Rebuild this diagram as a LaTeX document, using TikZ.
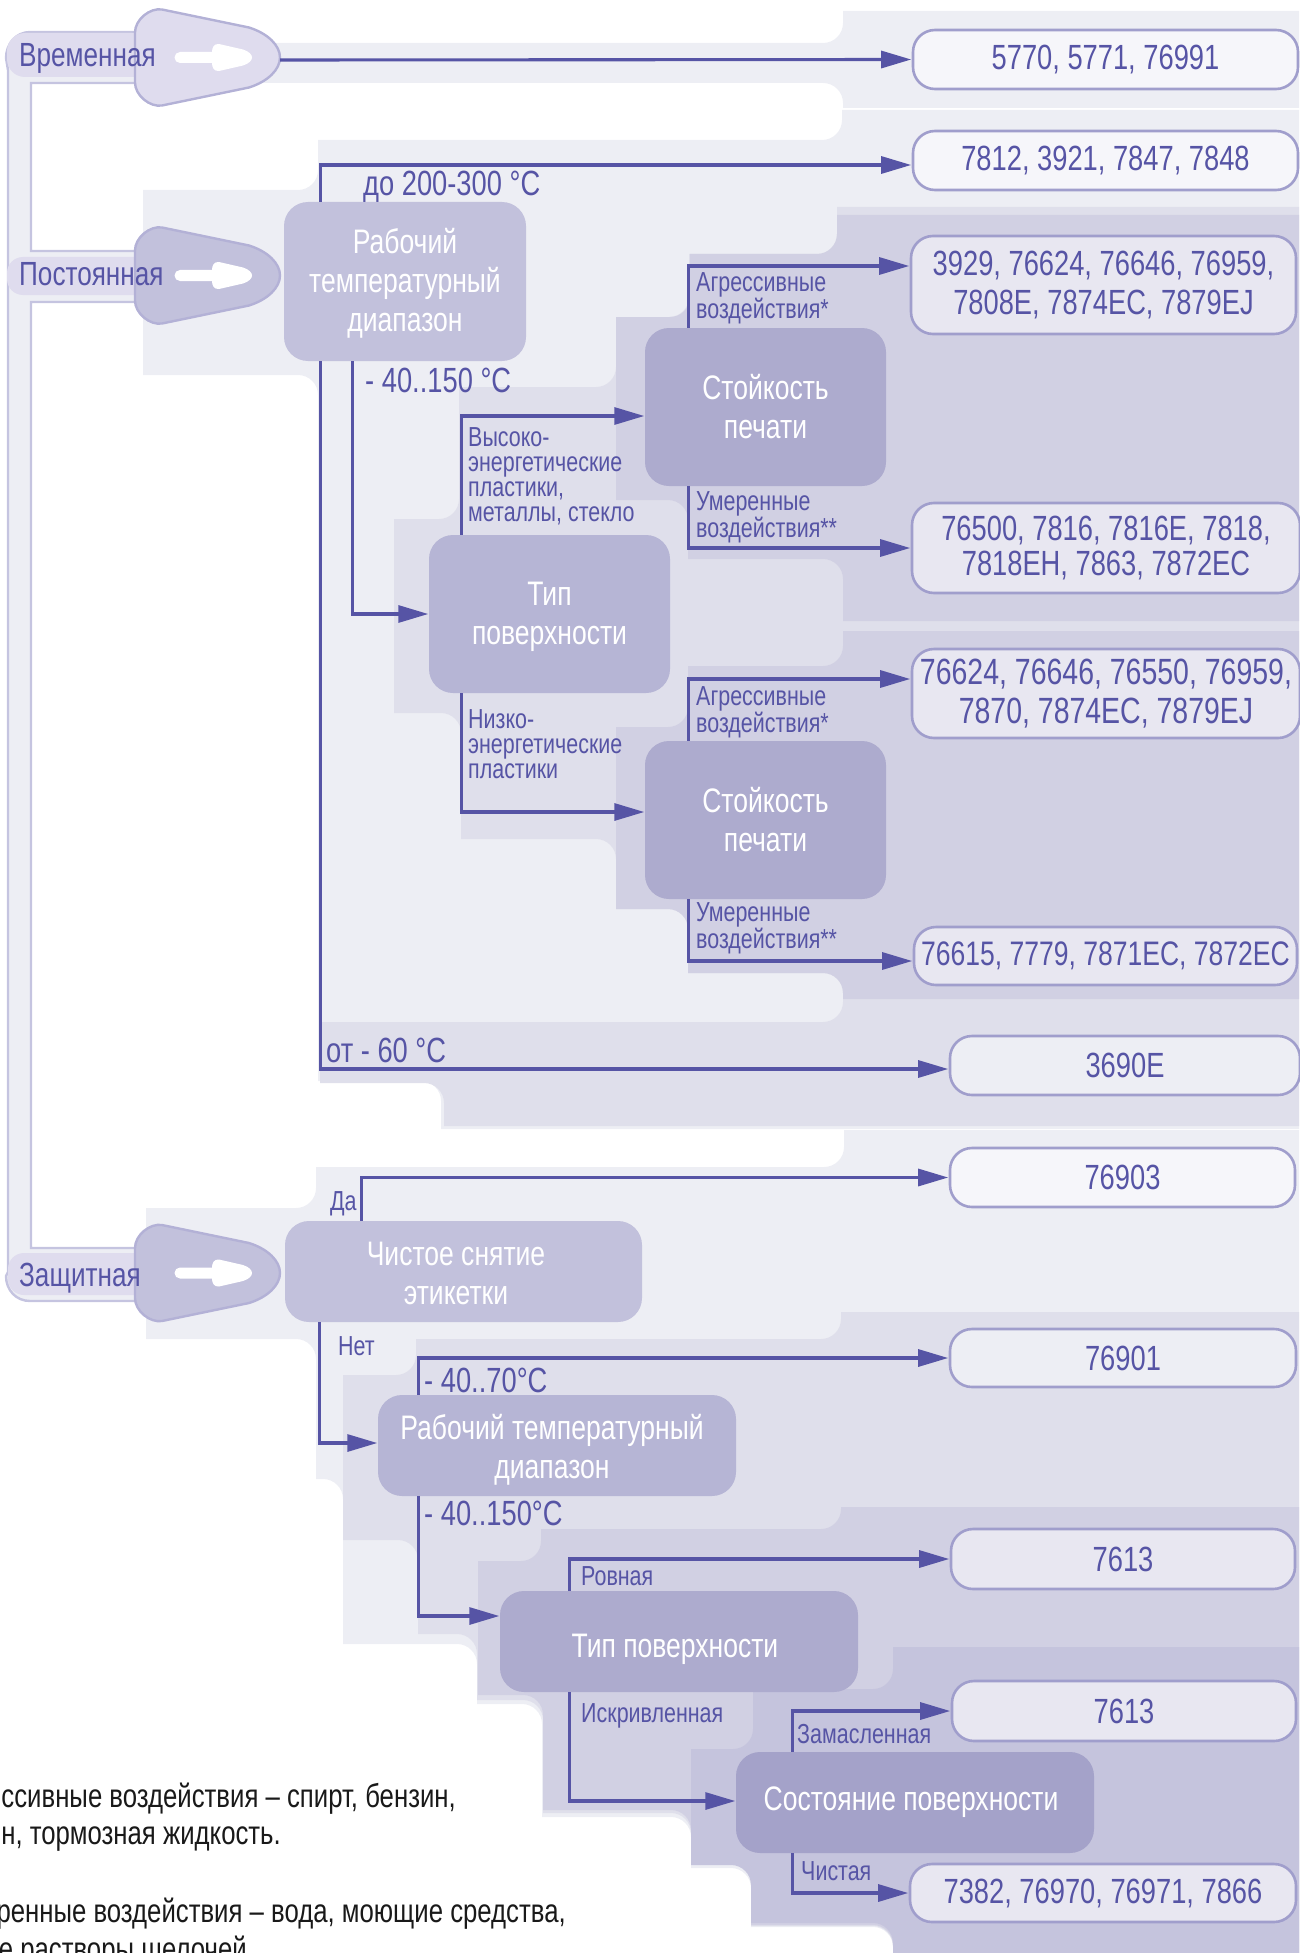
\documentclass[tikz,border=0pt]{standalone}
\usepackage{fontspec}
\setmainfont{Liberation Sans}[FakeStretch=0.78]
\usetikzlibrary{arrows.meta}
\definecolor{inkblue}{HTML}{5654A5}
\definecolor{edgeblue}{HTML}{A09ECC}
\definecolor{busedge}{HTML}{C5C4E0}
\definecolor{headedge}{HTML}{B3B1D6}
\definecolor{catlight}{HTML}{DFDCEE}
\definecolor{layerzero}{HTML}{EDEEF4}
\definecolor{layerone}{HTML}{DFDFEB}
\definecolor{layertwo}{HTML}{D1D0E3}
\definecolor{layerthree}{HTML}{C5C4DD}
\definecolor{blockone}{HTML}{C2C1DC}
\definecolor{blocktwo}{HTML}{B6B5D5}
\definecolor{blockthree}{HTML}{ADABCE}
\definecolor{blockfour}{HTML}{A4A2C9}
\tikzset{
  rc/.style={rounded corners=20pt},
  sc/.style={sharp corners},
  flow/.style={inkblue,line width=3.1pt,shorten >=0.5pt,-{Triangle[length=30pt,width=17pt]}},
  block/.style={rounded corners=24pt,inner sep=0pt,text=white,align=center,font=\fontsize{34}{39}\selectfont},
  result/.style={draw=edgeblue,line width=2.6pt,rounded corners=22pt,inner sep=0pt,text=inkblue,align=center,font=\fontsize{35}{39.5}\selectfont},
  catlabel/.style={text=inkblue,inner sep=0pt,anchor=west,font=\fontsize{33.5}{36}\selectfont},
  midlabel/.style={text=inkblue,inner sep=0pt,anchor=west,font=\fontsize{35}{36}\selectfont},
  smalllabel/.style={text=inkblue,inner sep=0pt,anchor=west,align=left,font=\fontsize{27.5}{25}\selectfont},
  footnote/.style={text=black!90,inner sep=0pt,anchor=east,font=\fontsize{33}{36}\selectfont},
  headshape/.pic={
    \fill[white] (180,-5.5) -- (212,-5.5) .. controls (212,-10) and (214,-14) .. (219,-13.5) -- (243,-8)
      .. controls (249,-6) and (252,-3) .. (252,0) .. controls (252,3) and (249,6) .. (243,8) -- (219,13.5)
      .. controls (214,14) and (212,10) .. (212,5.5) -- (180,5.5) arc (90:270:5.5) -- cycle;
  }
}
\newcommand{\headpath}{(135,-25) .. controls (135,-38) and (150,-50) .. (162,-48) -- (249,-30)
  .. controls (268,-24) and (280,-12) .. (280,0) .. controls (280,12) and (268,24) .. (249,30) -- (162,48)
  .. controls (150,50) and (135,38) .. (135,25) -- cycle}
\newcommand{\dropby}[2]{\raisebox{-#1}[\height][\depth]{#2}}
\begin{document}
\begin{tikzpicture}[x=1pt,y=-1pt]
  \useasboundingbox (0,0) rectangle (1299,1953);
  \fill[layerzero] (843,11) -- (1299,11) -- (1299,108) -- (843,108) [rc] -- (843,83) [sc] -- (240,83) -- (240,43) [rc] -- (843,43) [sc] -- cycle;
  \fill[layerzero] (842,110) -- (1299,110) -- (1299,1129) -- (441,1129) [rc] -- (441,1081) [sc] -- (318,1081) [rc] -- (318,375) [sc] -- (143,375) -- (143,190) [rc] -- (318,190) [sc] -- (318,140) [rc] -- (842,140) [sc] -- cycle;
  \fill[layerone] (1299,207) -- (837,207) [rc] -- (837,254) [sc] -- (689,254) [rc] -- (689,317) [sc] -- (616,317) [rc] -- (616,387) [sc] -- (459,387) [rc] -- (459,519) [sc] -- (394,519) -- (394,713) [rc] -- (461,713) [sc] -- (461,839) [rc] -- (616,839) [sc] -- (616,909) [rc] -- (688,909) [sc] -- (688,973) [rc] -- (843,973) -- (843,1022) [sc] -- (320,1022) -- (320,1083) [rc] -- (444,1083) [sc] -- (444,1126) -- (1299,1126) -- cycle;
  \fill[layertwo] (1299,215) -- (837,215) [rc] -- (837,254) [sc] -- (690,254) [rc] -- (690,317) [sc] -- (616,317) -- (616,500) [rc] -- (688,500) [sc] -- (688,559) [rc] -- (843,559) [sc] -- (843,621) -- (1299,621) -- cycle;
  \fill[layertwo] (1299,631) -- (843,631) [rc] -- (843,666) [sc] -- (688,666) [rc] -- (688,727) [sc] -- (616,727) -- (616,909) [rc] -- (688,909) [sc] -- (688,973) [rc] -- (843,973) [sc] -- (843,999) -- (1299,999) -- cycle;
  \fill[layerzero] (844,1130) -- (1299,1130) -- (1299,1953) -- (893,1953) [rc] -- (893,1927) [sc] -- (751,1927) [rc] -- (751,1868) [sc] -- (691,1868) [rc] -- (691,1817) [sc] -- (542,1817) [rc] -- (542,1704) [sc] -- (477,1704) [rc] -- (477,1644) [sc] -- (343,1644) [rc] -- (343,1479) [sc] -- (316,1479) [rc] -- (316,1339) [sc] -- (146,1339) -- (146,1208) [rc] -- (316,1208) [sc] -- (316,1167) [rc] -- (844,1167) [sc] -- cycle;
  \fill[layerone] (1299,1312) -- (841,1312) [rc] -- (841,1339) [sc] -- (416,1339) [rc] -- (416,1375) [sc] -- (343,1375) -- (343,1540) [rc] -- (418,1540) [sc] -- (418,1634) [rc] -- (477,1634) [sc] -- (477,1700) [rc] -- (543,1700) [sc] -- (543,1813) [rc] -- (691,1813) [sc] -- (691,1864) [rc] -- (751,1864) [sc] -- (751,1926) [rc] -- (893,1926) [sc] -- (893,1953) -- (1299,1953) -- cycle;
  \fill[layertwo] (1299,1507) -- (841,1507) [rc] -- (841,1529) [sc] -- (541,1529) [rc] -- (541,1561) [sc] -- (478,1561) -- (478,1695) [rc] -- (543,1695) [sc] -- (543,1810) [rc] -- (691,1810) [sc] -- (691,1863) [rc] -- (751,1863) [sc] -- (751,1925) [rc] -- (893,1925) [sc] -- (893,1953) -- (1299,1953) -- cycle;
  \fill[layerthree] (1299,1647) -- (893,1647) [rc] -- (893,1689) [sc] -- (753,1689) [rc] -- (753,1749) [sc] -- (691,1749) -- (691,1865) [rc] -- (751,1865) [sc] -- (751,1923) [rc] -- (893,1923) [sc] -- (893,1953) -- (1299,1953) -- cycle;

  \filldraw[busedge,line width=2.4pt,fill=layerzero] (140,32) -- (30,32) .. controls (16,32) and (6,44) .. (6,58) -- (8,70) -- (8,1272) -- (6,1276) .. controls (6,1290) and (16,1301) .. (30,1301) -- (140,1301) -- (140,1248) -- (31,1248) -- (31,302) -- (140,302) -- (140,251) -- (31,251) -- (31,83) -- (140,83) -- cycle;
  \fill[catlight,rounded corners=18pt] (7,33) rectangle (150,77);
  \fill[catlight,rounded corners=16pt] (7,257) rectangle (150,295);
  \fill[catlight,rounded corners=16pt] (8,1253) rectangle (150,1295);

  \filldraw[draw=headedge,fill=catlight,line width=2.4pt,shift={(0,57.5)}] \headpath;
  \filldraw[draw=headedge,fill=blockone,line width=2.4pt,shift={(0,275.5)}] \headpath;
  \filldraw[draw=headedge,fill=blockone,line width=2.4pt,shift={(0,1273)}] \headpath;
  \pic at (0,57.5) {headshape};
  \pic at (0,275.5) {headshape};
  \pic at (0,1273) {headshape};

  \node[catlabel] (labelTemp) at (19,58) {Временная};
  \node[catlabel] (labelPerm) at (19,274) {Постоянная};
  \node[catlabel] (labelProt) at (19,1278) {Защитная};
  \coordinate (tempTip) at (280,60);

  \node[block,fill=blockone,minimum width=242pt,minimum height=159pt] (termA) at (405,281.5) {\dropby{1.5pt}{Рабочий}\\\dropby{1.5pt}{температурный}\\\dropby{1.5pt}{диапазон}};
  \node[block,fill=blockthree,minimum width=241pt,minimum height=158pt] (sealA) at (765.5,407) {Стойкость\\печати};
  \node[block,fill=blocktwo,minimum width=241pt,minimum height=158pt] (surfA) at (549.5,614) {\dropby{2.5pt}{Тип}\\\dropby{2.5pt}{поверхности}};
  \node[block,fill=blockthree,minimum width=241pt,minimum height=158pt] (sealB) at (765.5,820) {Стойкость\\печати};
  \node[block,fill=blockone,minimum width=357pt,minimum height=101pt] (cleanBox) at (463.5,1271.5) {\dropby{2pt}{Чистое снятие}\hspace*{15pt}\\\dropby{2pt}{этикетки}\hspace*{15pt}};
  \node[block,fill=blocktwo,minimum width=358pt,minimum height=101pt] (termB) at (557,1445.5) {\dropby{4pt}{Рабочий температурный}\hspace*{10pt}\\\dropby{4pt}{диапазон}\hspace*{10pt}};
  \node[block,fill=blockthree,minimum width=358pt,minimum height=101pt] (surfB) at (679,1641.5) {\dropby{8pt}{Тип поверхности}\hspace*{8pt}};
  \node[block,fill=blockfour,minimum width=358pt,minimum height=101pt] (stateBox) at (915,1802.5) {Состояние поверхности\hspace*{8pt}};

  \node[result,fill=layerzero!50!white,minimum width=385pt,minimum height=59pt] (resA) at (1105.5,59.5) {5770, 5771, 76991};
  \node[result,fill=layerzero!50!white,minimum width=385pt,minimum height=59pt] (resB) at (1105.5,160.5) {7812, 3921, 7847, 7848};
  \node[result,fill=layertwo!50!white,minimum width=385pt,minimum height=98pt] (resC) at (1103.5,285) {3929, 76624, 76646, 76959,\\7808E, 7874EC, 7879EJ};
  \node[result,fill=layertwo!50!white,minimum width=388pt,minimum height=90pt] (resD) at (1106,548) {76500, 7816, 7816E, 7818,\\[-5pt]7818EH, 7863, 7872EC};
  \node[result,fill=layertwo!50!white,minimum width=388pt,minimum height=89pt,font=\fontsize{36.5}{39}\selectfont] (resE) at (1106,693.5) {76624, 76646, 76550, 76959,\\7870, 7874EC, 7879EJ};
  \node[result,fill=layertwo!50!white,minimum width=383pt,minimum height=58pt,font=\fontsize{34}{39}\selectfont] (resF) at (1105.5,956) {76615, 7779, 7871EC, 7872EC};
  \node[result,fill=layerzero,minimum width=350pt,minimum height=59pt] (resG) at (1125,1065.5) {3690E};
  \node[result,fill=layerzero!50!white,minimum width=345pt,minimum height=59pt] (resH) at (1122.5,1177.5) {76903};
  \node[result,fill=layerzero,minimum width=346pt,minimum height=58pt] (resI) at (1123,1358) {76901};
  \node[result,fill=layertwo!50!white,minimum width=344pt,minimum height=60pt] (resJ) at (1123,1559) {7613};
  \node[result,fill=layerthree!40!white,minimum width=344pt,minimum height=60pt] (resK) at (1124,1711) {7613};
  \node[result,fill=layerthree!40!white,minimum width=386pt,minimum height=58pt] (resL) at (1103,1893) {7382, 76970, 76971, 7866};

  \draw[flow] (tempTip) -- (resA.west);
  \draw[flow] ([xshift=36.5pt]termA.north west) |- ([yshift=-4.5pt]resB.west);
  \draw[flow] ([xshift=36.5pt]termA.south west) |- ([yshift=-3.5pt]resG.west);
  \draw[flow] ([xshift=69pt]termA.south west) |- (surfA.west);
  \draw[flow] ([xshift=32.5pt]surfA.north west) |- ([yshift=-9pt]sealA.west);
  \draw[flow] ([xshift=32.5pt]surfA.south west) |- ([yshift=8pt]sealB.west);
  \draw[flow] ([xshift=44pt]sealA.north west) |- ([yshift=19pt]resC.west);
  \draw[flow] ([xshift=44pt]sealA.south west) |- (resD.west);
  \draw[flow] ([xshift=44pt]sealB.north west) |- ([yshift=14.5pt]resE.west);
  \draw[flow] ([xshift=44pt]sealB.south west) |- ([yshift=-5pt]resF.west);
  \draw[flow] ([xshift=76.5pt]cleanBox.north west) |- (resH.west);
  \draw[flow] ([xshift=34.5pt]cleanBox.south west) |- ([yshift=2.5pt]termB.west);
  \draw[flow] ([xshift=40.5pt]termB.north west) |- (resI.west);
  \draw[flow] ([xshift=40.5pt]termB.south west) |- ([yshift=25.5pt]surfB.west);
  \draw[flow] ([xshift=69.5pt]surfB.north west) |- (resJ.west);
  \draw[flow] ([xshift=69.5pt]surfB.south west) |- ([yshift=1.5pt]stateBox.west);
  \draw[flow] ([xshift=56.5pt]stateBox.north west) |- (resK.west);
  \draw[flow] ([xshift=56.5pt]stateBox.south west) |- (resL.west);

  \node[midlabel] (rangeHigh) at (363,187) {до 200-300 °C};
  \node[midlabel] (rangeMid) at (365,380) {- 40..150 °C};
  \node[midlabel] (rangeLow) at (326,1050) {от - 60 °C};
  \node[midlabel] (rangeD) at (424,1380) {- 40..70°C};
  \node[midlabel] (rangeE) at (424,1513) {- 40..150°C};
  \node[smalllabel] (surfHigh) at (468,476) {Высоко-\\энергетические\\пластики,\\металлы, стекло};
  \node[smalllabel] (surfLow) at (468,744) {Низко-\\энергетические\\пластики};
  \node[smalllabel] (aggrA) at (696,298) {Агрессивные\\воздействия*};
  \node[smalllabel] (modA) at (696,517) {Умеренные\\воздействия**};
  \node[smalllabel] (aggrB) at (696,712.5) {Агрессивные\\воздействия*};
  \node[smalllabel] (modB) at (696,928) {Умеренные\\воздействия**};
  \node[smalllabel] (yesLabel) at (330,1204) {Да};
  \node[smalllabel] (noLabel) at (338,1346) {Нет};
  \node[smalllabel] (flatLabel) at (581,1576) {Ровная};
  \node[smalllabel] (curvedLabel) at (581,1716) {Искривленная};
  \node[smalllabel] (oilyLabel) at (797,1734) {Замасленная};
  \node[smalllabel] (cleanLabel) at (801,1871) {Чистая};

  \node[footnote] (noteA) at (456,1799) {ссивные воздействия – спирт, бензин,};
  \node[footnote] (noteB) at (281,1839) {н, тормозная жидкость.};
  \node[footnote] (noteC) at (566,1914) {ренные воздействия – вода, моющие средства,};
  \node[footnote] (noteD) at (247,1952) {е растворы щелочей};
\end{tikzpicture}
\end{document}
